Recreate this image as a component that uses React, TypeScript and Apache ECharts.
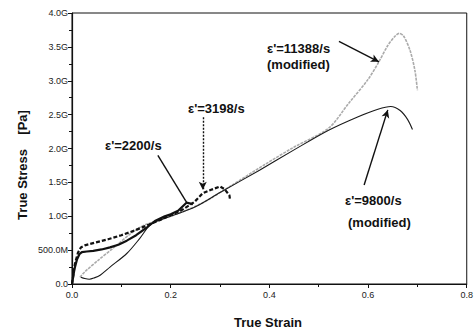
import React, { useEffect, useRef } from "react";
import * as echarts from "echarts";

const strain2200 = [0, 0.005, 0.01, 0.015, 0.02, 0.03, 0.043, 0.06, 0.077, 0.094, 0.111, 0.13, 0.151, 0.168, 0.188, 0.2, 0.215, 0.232, 0.245];
const stress2200 = [0, 0.22, 0.36, 0.44, 0.47, 0.48, 0.49, 0.51, 0.54, 0.58, 0.64, 0.72, 0.83, 0.93, 1.0, 1.03, 1.08, 1.2, 1.18];

const strain3198 = [0, 0.006, 0.012, 0.018, 0.026, 0.046, 0.073, 0.1, 0.127, 0.154, 0.18, 0.2, 0.22, 0.248, 0.265, 0.282, 0.3, 0.309, 0.319, 0.32];
const stress3198 = [0, 0.3, 0.46, 0.54, 0.57, 0.61, 0.66, 0.72, 0.79, 0.87, 0.95, 1.02, 1.08, 1.21, 1.34, 1.39, 1.44, 1.4, 1.31, 1.26];

const strain11388 = [0.016, 0.026, 0.053, 0.087, 0.12, 0.147, 0.2, 0.26, 0.32, 0.39, 0.45, 0.52, 0.56, 0.6, 0.622, 0.64, 0.655, 0.663, 0.672, 0.685, 0.695, 0.7];
const stress11388 = [0.1, 0.18, 0.35, 0.55, 0.75, 0.87, 1.0, 1.18, 1.44, 1.76, 2.02, 2.3, 2.66, 3.02, 3.28, 3.52, 3.66, 3.7, 3.66, 3.45, 3.15, 2.86];

const strain9800 = [0.018, 0.026, 0.035, 0.045, 0.057, 0.077, 0.111, 0.137, 0.158, 0.18, 0.2, 0.25, 0.3, 0.38, 0.45, 0.52, 0.58, 0.62, 0.646, 0.665, 0.68, 0.69];
const stress9800 = [0.1, 0.08, 0.07, 0.09, 0.13, 0.25, 0.45, 0.67, 0.87, 0.95, 1.0, 1.14, 1.35, 1.68, 1.98, 2.27, 2.47, 2.58, 2.62, 2.56, 2.43, 2.28];

// annotation arrows in data units [x1, y1, x2, y2]
const arrow2200 = [0.174, 1.9, 0.232, 1.21];
const arrow3198 = [0.265, 2.46, 0.265, 1.39];
const arrow11388 = [0.541, 3.58, 0.622, 3.28];
const arrow9800 = [0.592, 1.46, 0.64, 2.57];

const xTicks = [0, 0.2, 0.4, 0.6, 0.8];
const yTickLabels = ["0.0", "500.0M", "1.0G", "1.5G", "2.0G", "2.5G", "3.0G", "3.5G", "4.0G"];

const zip = (xs: number[], ys: number[]) => xs.map((x, i) => [x, ys[i]]);

const FONT = "'Liberation Sans Narrow', Arial, sans-serif";

export default function App() {
  const ref = useRef<HTMLDivElement>(null);
  useEffect(() => {
    const chart = echarts.init(ref.current!, null, { renderer: "svg" });
    const arrowLine = (a: number[], dotted: boolean, head: boolean) => ({
      symbol: ["none", head ? "arrow" : "none"],
      symbolSize: [6, 8],
      silent: true,
      label: { show: false },
      lineStyle: { color: "#111", width: 1.4, type: dotted ? [2, 1.5] : "solid" },
      data: [[{ coord: [a[0], a[1]] }, { coord: [a[2], a[3]] }]],
    });
    const textEl = (txt: string, x: number, y: number, align = "left") => ({
      type: "text",
      x,
      y,
      style: {
        text: txt,
        font: `bold 13px ${FONT}`,
        fill: "#111",
        textAlign: align,
        textVerticalAlign: "middle",
      },
    });
    chart.setOption({
      animation: false,
      backgroundColor: "#fff",
      grid: { left: 72, right: 8, top: 13, bottom: 47, show: true, borderColor: "#111", borderWidth: 1 },
      xAxis: {
        type: "value",
        min: 0,
        max: 0.8,
        interval: 0.2,
        axisLine: { lineStyle: { color: "#111", width: 1.2 } },
        axisTick: { show: true, length: 4, lineStyle: { color: "#111" } },
        minorTick: { show: true, splitNumber: 2, length: 3, lineStyle: { color: "#111" } },
        splitLine: { show: false },
        axisLabel: {
          color: "#222",
          fontSize: 9,
          fontFamily: FONT,
          margin: 6,
          formatter: (v: number) => {
            const i = xTicks.findIndex((t) => Math.abs(t - v) < 1e-6);
            return i >= 0 ? xTicks[i].toFixed(1) : "";
          },
        },
      },
      yAxis: {
        type: "value",
        min: 0,
        max: 4,
        interval: 0.5,
        axisLine: { show: true, lineStyle: { color: "#111", width: 1.2 } },
        axisTick: { show: true, length: 4, lineStyle: { color: "#111" } },
        minorTick: { show: true, splitNumber: 2, length: 3, lineStyle: { color: "#111" } },
        splitLine: { show: false },
        axisLabel: {
          color: "#222",
          fontSize: 9,
          fontFamily: FONT,
          margin: 4,
          formatter: (v: number) => yTickLabels[Math.round(v / 0.5)] ?? "",
        },
      },
      series: [
        {
          type: "line",
          name: "11388",
          data: zip(strain11388, stress11388),
          showSymbol: false,
          smooth: 0.3,
          lineStyle: { color: "#ababab", width: 1.6, type: [3, 1] },
          markLine: arrowLine(arrow11388, false, true),
        },
        {
          type: "line",
          name: "9800",
          data: zip(strain9800, stress9800),
          showSymbol: false,
          smooth: 0.3,
          lineStyle: { color: "#1a1a1a", width: 1.1 },
          markLine: arrowLine(arrow9800, false, true),
        },
        {
          type: "line",
          name: "3198",
          data: zip(strain3198, stress3198),
          showSymbol: false,
          smooth: false,
          lineStyle: { color: "#111", width: 2.2, type: [4, 2], join: "round" },
          markLine: arrowLine(arrow3198, true, true),
        },
        {
          type: "line",
          name: "2200",
          data: zip(strain2200, stress2200),
          showSymbol: false,
          smooth: false,
          lineStyle: { color: "#111", width: 2.2, join: "round" },
          markLine: arrowLine(arrow2200, false, false),
        },
      ],
      graphic: [
        textEl("ε'=2200/s", 105, 145),
        textEl("ε'=3198/s", 188, 108),
        textEl("ε'=11388/s", 267, 48),
        textEl("(modified)", 267, 64),
        textEl("ε'=9800/s", 345, 200),
        textEl("(modified)", 348, 222),
        {
          type: "text",
          x: 268,
          y: 322,
          style: {
            text: "True Strain",
            font: `bold 13px ${FONT}`,
            fill: "#111",
            textAlign: "center",
            textVerticalAlign: "middle",
          },
        },
        {
          type: "text",
          x: 22,
          y: 165,
          rotation: Math.PI / 2,
          style: {
            text: "True Stress    [Pa]",
            font: `bold 13px ${FONT}`,
            fill: "#111",
            textAlign: "center",
            textVerticalAlign: "middle",
          },
        },
      ],
    });
    return () => chart.dispose();
  }, []);
  return <div ref={ref} style={{ width: 476, height: 331, position: "absolute", left: 0, top: 0 }} />;
}
